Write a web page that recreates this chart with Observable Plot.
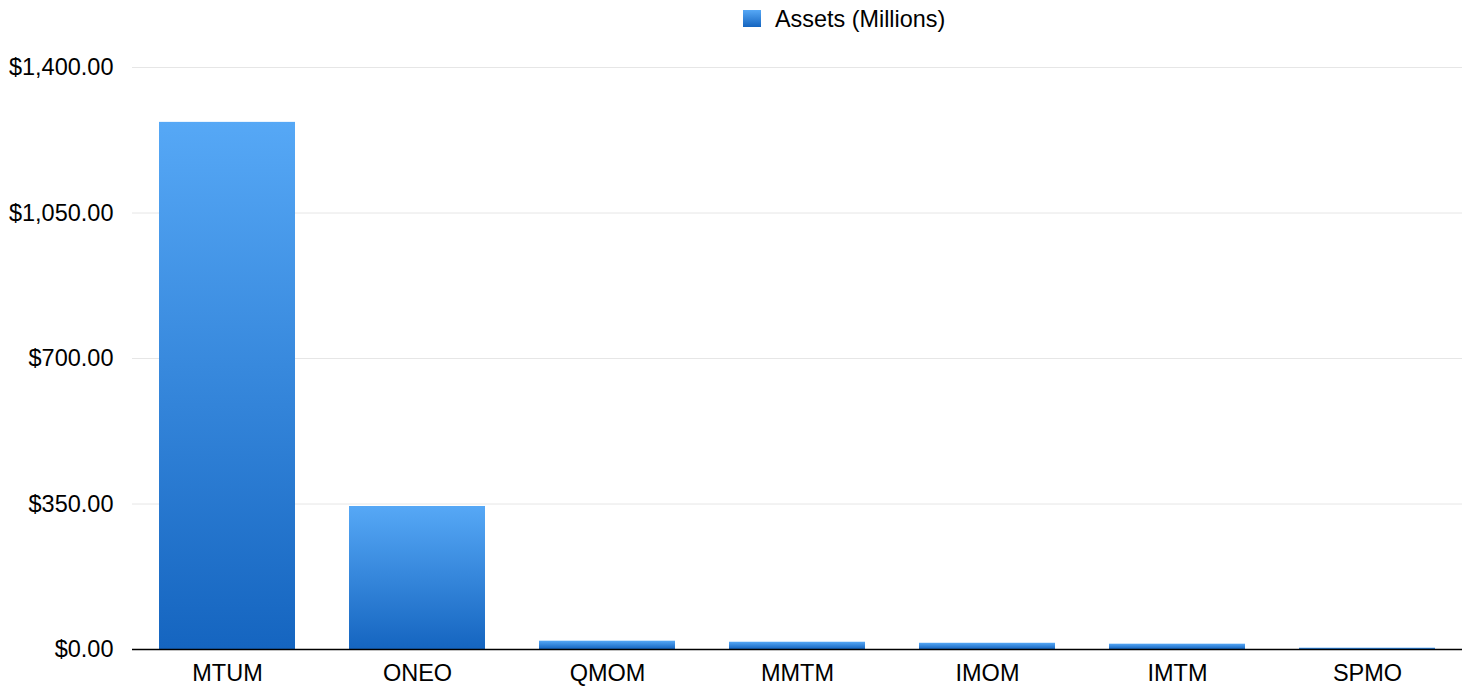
<!DOCTYPE html>
<html>
<head>
<meta charset="utf-8">
<script src="https://cdn.jsdelivr.net/npm/d3@7"></script>
<script src="https://cdn.jsdelivr.net/npm/@observablehq/plot@0.6"></script>
<style>
  body { margin: 0; background: #fff; font-family: "Liberation Sans", Arial, Helvetica, sans-serif; }
  #legend { height: 40px; position: relative; }
  #legend .sw { position: absolute; left: 743px; top: 10px; width: 18px; height: 17px;
    background: linear-gradient(#56a8f6, #1565c0); }
  #legend .lb { position: absolute; left: 775px; top: 6px; font-size: 23.4px; color: #000; line-height: 26px; }
</style>
</head>
<body>
<div id="legend"><div class="sw"></div><div class="lb">Assets (Millions)</div></div>
<div id="chart"></div>
<script>
const tickers = ["MTUM", "ONEO", "QMOM", "MMTM", "IMOM", "IMTM", "SPMO"];
const assets = [1268, 344, 20, 17.5, 15, 12.8, 3.2];
const yTicks = [0, 350, 700, 1050, 1400];

const data = tickers.map((t, i) => ({ ticker: t, value: assets[i] }));

const chart = Plot.plot({
  width: 1475,
  height: 654,
  marginLeft: 132,
  marginRight: 13,
  marginTop: 27,
  marginBottom: 45,
  style: { fontFamily: "'Liberation Sans', Arial, Helvetica, sans-serif", fontSize: "23.5px", color: "#000", background: "#fff" },
  x: { domain: tickers, paddingInner: 0.284, paddingOuter: 0.142, label: null },
  y: { domain: [0, 1400], label: null },
  marks: [
    Plot.gridY(yTicks, { stroke: "#e6e6e6", strokeOpacity: 1 }),
    Plot.barY(data, { x: "ticker", y: "value", fill: "url(#barGrad)" }),
    Plot.ruleY([0], { stroke: "#000", strokeWidth: 1.5 }),
    Plot.axisY(yTicks, { tickSize: 0, tickPadding: 19, tickFormat: d => "$" + d3.format(",.2f")(d), fontSize: 23.5, label: null }),
    Plot.axisX({ tickSize: 0, tickPadding: 15, fontSize: 23.5, label: null })
  ]
});

const svgNS = "http://www.w3.org/2000/svg";
const defs = document.createElementNS(svgNS, "defs");
defs.innerHTML = '<linearGradient id="barGrad" x1="0" y1="0" x2="0" y2="1">' +
  '<stop offset="0" stop-color="#56a8f6"/><stop offset="1" stop-color="#1565c0"/></linearGradient>';
chart.insertBefore(defs, chart.firstChild);

document.getElementById("chart").appendChild(chart);
</script>
</body>
</html>
